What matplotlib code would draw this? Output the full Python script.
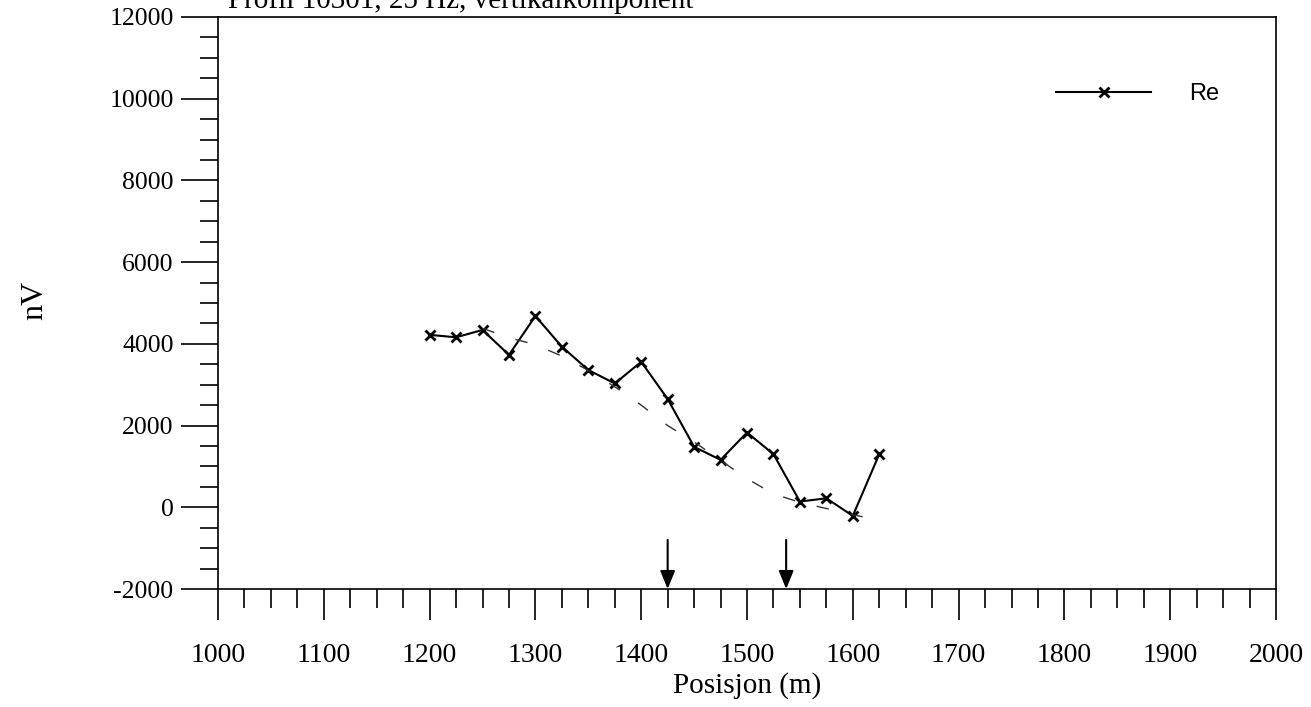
import matplotlib.pyplot as plt
from matplotlib.ticker import MultipleLocator

plt.rcParams["axes.unicode_minus"] = False

# posisjon langs profilen (m)
posisjon = [1200, 1225, 1250, 1275, 1300, 1325, 1350, 1375, 1400,
            1425, 1450, 1475, 1500, 1525, 1550, 1575, 1600, 1625]
re_verdi = [4220, 4160, 4340, 3730, 4680, 3930, 3360, 3030, 3560,
            2650, 1480, 1160, 1830, 1300, 140, 220, -210, 1300]

# glattet kurve (stiplet)
glatt_pos = [1250, 1275, 1300, 1325, 1350, 1375, 1400, 1425, 1450,
             1475, 1500, 1525, 1550, 1575, 1600, 1625]
glatt_verdi = [4380, 4150, 3980, 3700, 3350, 2950, 2500, 2000, 1600,
               1150, 700, 330, 120, -30, -180, -320]

# markerte posisjoner (piler)
pil_pos = [1425, 1537]

serif = "Liberation Serif"

fig = plt.figure(figsize=(13.11, 7.07), dpi=100)
ax = fig.add_axes([0.1663, 0.1669, 0.8070, 0.8091])

ax.plot(posisjon, re_verdi, color="black", lw=1.5, marker="x",
        markersize=7.5, mew=2.0, label="Re")
ax.plot(glatt_pos, glatt_verdi, color="#333333", lw=1.0,
        dashes=(9, 16))

for p in pil_pos:
    ax.annotate("", xy=(p, -2000), xytext=(p, -800),
                arrowprops=dict(arrowstyle="-|>,head_width=0.45,head_length=1.1",
                                color="black", lw=1.5, shrinkA=0, shrinkB=0))

ax.set_xlim(1000, 2000)
ax.set_ylim(-2000, 12000)
ax.xaxis.set_major_locator(MultipleLocator(100))
ax.xaxis.set_minor_locator(MultipleLocator(25))
ax.yaxis.set_major_locator(MultipleLocator(2000))
ax.yaxis.set_minor_locator(MultipleLocator(500))

ax.tick_params(axis="x", which="major", direction="out", length=22, width=1.2, pad=17)
ax.tick_params(axis="x", which="minor", direction="out", length=14, width=1.2)
ax.tick_params(axis="y", which="major", direction="out", length=27, width=1.2, pad=5)
ax.tick_params(axis="y", which="minor", direction="out", length=13, width=1.2)
for lab in ax.get_xticklabels():
    lab.set_fontfamily(serif)
    lab.set_fontsize(20)
for lab in ax.get_yticklabels():
    lab.set_fontfamily(serif)
    lab.set_fontsize(18.5)
for s in ax.spines.values():
    s.set_linewidth(1.2)

ax.set_xlabel("Posisjon (m)", fontfamily=serif, fontsize=21, labelpad=3)
fig.text(35 / 1311, 1 - 300 / 707, "nV", fontfamily=serif, fontsize=23,
         rotation=90, ha="center", va="center")

fig.text(228 / 1311, 1 - 8 / 707, "Profil 10301, 25 Hz, vertikalkomponent",
         fontfamily=serif, fontsize=21, ha="left", va="baseline")

leg = ax.legend(loc="upper right", bbox_to_anchor=(0.966, 0.922), frameon=False,
                prop={"family": "Liberation Sans", "size": 17},
                handlelength=4.0, handletextpad=1.6)

fig.savefig("out.png", dpi=100)
